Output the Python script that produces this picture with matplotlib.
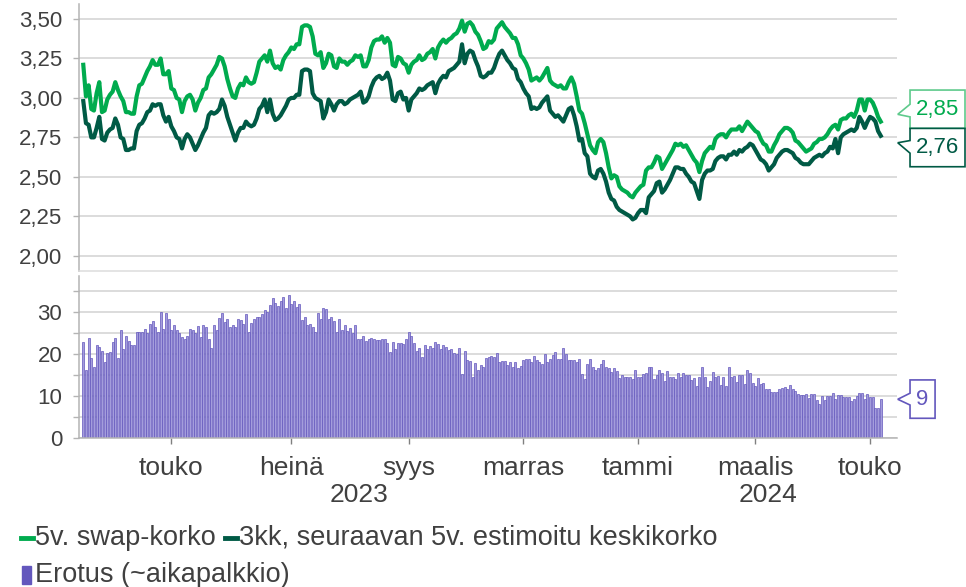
import numpy as np
import pandas as pd
import matplotlib
matplotlib.use('Agg')
import matplotlib.pyplot as plt
from matplotlib.lines import Line2D
from matplotlib.patches import Rectangle, Polygon

plt.rcParams['font.family'] = ['Liberation Sans', 'DejaVu Sans']

# 5v. swap-korko, business days from 15.3.2023
swap = [
    3.21, 3.01, 3.08, 2.93, 2.92, 3.03, 3.10, 2.91, 2.92, 2.99,
    3.02, 3.04, 3.10, 3.05, 3.01, 2.98, 2.91, 2.91, 2.90, 2.90,
    3.01, 3.08, 3.09, 3.13, 3.17, 3.20, 3.24, 3.21, 3.21, 3.25,
    3.15, 3.15, 3.17, 3.06, 3.05, 3.00, 2.99, 2.91, 2.98, 3.01,
    3.02, 2.99, 2.92, 2.97, 3.00, 3.05, 3.06, 3.13, 3.15, 3.18,
    3.21, 3.26, 3.25, 3.20, 3.12, 3.06, 3.01, 3.00, 3.06, 3.09,
    3.08, 3.13, 3.10, 3.09, 3.10, 3.16, 3.23, 3.25, 3.27, 3.23,
    3.30, 3.22, 3.19, 3.20, 3.18, 3.24, 3.27, 3.29, 3.32, 3.31,
    3.34, 3.34, 3.45, 3.46, 3.46, 3.45, 3.39, 3.28, 3.27, 3.29,
    3.19, 3.22, 3.28,
    3.27, 3.20, 3.19, 3.25, 3.23, 3.23, 3.21, 3.23, 3.24, 3.27,
    3.26, 3.27, 3.20, 3.20, 3.24, 3.32, 3.36, 3.37, 3.37, 3.39,
    3.35, 3.38, 3.35, 3.21, 3.20, 3.26, 3.25, 3.22, 3.21, 3.16,
    3.21, 3.23, 3.24, 3.27, 3.24, 3.25, 3.28, 3.29, 3.31, 3.25,
    3.32, 3.35, 3.37, 3.35, 3.37, 3.38, 3.40, 3.41, 3.44, 3.49,
    3.42, 3.47, 3.48, 3.46, 3.42, 3.40, 3.36, 3.31, 3.32, 3.36,
    3.35, 3.37, 3.44, 3.46, 3.48, 3.45, 3.43, 3.41, 3.38, 3.38,
    3.34, 3.27, 3.25, 3.22, 3.18, 3.11, 3.12, 3.13, 3.11, 3.13,
    3.16, 3.19, 3.11, 3.09, 3.08, 3.07, 3.08, 3.06, 3.06, 3.10,
    3.13, 3.09, 3.01, 2.92, 2.90, 2.84, 2.77, 2.70, 2.67, 2.65,
    2.72, 2.74, 2.72, 2.65, 2.56, 2.49, 2.51, 2.50, 2.44, 2.42,
    2.41,
    2.40, 2.38, 2.37, 2.40, 2.42, 2.44, 2.45, 2.54, 2.56, 2.56,
    2.59, 2.63, 2.62, 2.55, 2.58, 2.61, 2.64, 2.67, 2.71, 2.70,
    2.71, 2.69, 2.70, 2.67, 2.64, 2.61, 2.59, 2.53, 2.60, 2.65,
    2.67, 2.69, 2.68, 2.74, 2.76, 2.77, 2.77, 2.75, 2.78, 2.80,
    2.80, 2.80, 2.82, 2.79, 2.82, 2.85, 2.83, 2.81, 2.79, 2.78,
    2.74, 2.71, 2.70, 2.66, 2.66, 2.70, 2.73, 2.77, 2.79, 2.81,
    2.81, 2.80, 2.78, 2.73, 2.72, 2.70, 2.68, 2.66, 2.67, 2.68,
    2.71, 2.72, 2.74, 2.74, 2.75, 2.77, 2.80, 2.82, 2.83, 2.80,
    2.86, 2.87, 2.87, 2.89, 2.90, 2.88, 2.92, 2.99, 2.99, 2.92,
    2.99, 2.99, 2.97, 2.93, 2.88, 2.85,
]

# 3kk, seuraavan 5v. estimoitu keskikorko
est = [
    2.98, 2.84, 2.83, 2.75, 2.75, 2.81, 2.88, 2.74, 2.73, 2.78,
    2.80, 2.81, 2.87, 2.83, 2.75, 2.74, 2.67, 2.67, 2.68, 2.68,
    2.79, 2.83, 2.84, 2.87, 2.91, 2.92, 2.96, 2.95, 2.96, 2.96,
    2.89, 2.85, 2.88, 2.82, 2.79, 2.75, 2.74, 2.68, 2.74, 2.77,
    2.75, 2.71, 2.67, 2.70, 2.74, 2.78, 2.81, 2.89, 2.91, 2.90,
    2.91, 2.93, 2.99, 2.95, 2.88, 2.83, 2.78, 2.73, 2.78, 2.81,
    2.81, 2.85, 2.83, 2.82, 2.83, 2.87, 2.93, 2.95, 2.99, 2.91,
    2.99, 2.90, 2.86, 2.87, 2.89, 2.92, 2.95, 2.99, 3.00, 3.00,
    3.02, 3.02, 3.17, 3.18, 3.18, 3.17, 3.03, 3.00, 2.99, 2.98,
    2.87, 2.91, 2.99,
    2.96, 2.92, 2.96, 2.98, 2.98, 2.96, 2.97, 2.99, 3.00, 3.01,
    3.02, 3.04, 2.97, 2.98, 3.01, 3.07, 3.11, 3.13, 3.14, 3.12,
    3.13, 3.16, 3.11, 2.99, 2.98, 3.03, 3.04, 2.99, 3.00, 2.92,
    2.99, 3.01, 3.03, 3.06, 3.05, 3.06, 3.08, 3.09, 3.10, 3.03,
    3.09, 3.12, 3.14, 3.13, 3.17, 3.18, 3.19, 3.21, 3.23, 3.34,
    3.22, 3.28, 3.30, 3.29, 3.24, 3.20, 3.14, 3.13, 3.14, 3.16,
    3.16, 3.19, 3.24, 3.28, 3.30, 3.27, 3.24, 3.22, 3.19, 3.18,
    3.12, 3.10, 3.06, 3.03, 3.01, 2.93, 2.94, 2.93, 2.94, 2.97,
    2.99, 3.01, 2.92, 2.90, 2.88, 2.89, 2.87, 2.85, 2.89, 2.93,
    2.94, 2.89, 2.82, 2.73, 2.74, 2.65, 2.63, 2.52, 2.50, 2.49,
    2.54, 2.55, 2.52, 2.47, 2.40, 2.36, 2.35, 2.31, 2.29, 2.28,
    2.27,
    2.26, 2.25, 2.23, 2.24, 2.27, 2.29, 2.29, 2.27, 2.37, 2.39,
    2.41, 2.46, 2.47, 2.40, 2.42, 2.45, 2.48, 2.52, 2.56, 2.56,
    2.55, 2.55, 2.52, 2.50, 2.47, 2.46, 2.41, 2.36, 2.48, 2.52,
    2.54, 2.54, 2.55, 2.60, 2.62, 2.63, 2.63, 2.61, 2.64, 2.64,
    2.66, 2.64, 2.67, 2.66, 2.68, 2.69, 2.71, 2.70, 2.67, 2.64,
    2.61, 2.60, 2.58, 2.54, 2.56, 2.58, 2.62, 2.64, 2.66, 2.67,
    2.67, 2.66, 2.65, 2.62, 2.61, 2.59, 2.58, 2.58, 2.58, 2.60,
    2.62, 2.63, 2.64, 2.63, 2.65, 2.66, 2.69, 2.68, 2.74, 2.65,
    2.75, 2.77, 2.78, 2.79, 2.80, 2.79, 2.81, 2.88, 2.85, 2.81,
    2.85, 2.88, 2.87, 2.85, 2.79, 2.76,
]

# Erotus (~aikapalkkio), basis points
erotus = [
    22.8, 16.2, 23.9, 19.1, 16.9, 22.2, 21.6, 20.7, 18.0, 20.3,
    20.4, 22.9, 23.8, 19.1, 25.7, 21.3, 24.2, 23.2, 22.2, 22.2,
    25.1, 25.3, 25.3, 26.0, 24.9, 27.2, 27.9, 26.3, 25.2, 29.9,
    26.0, 29.8, 28.3, 25.7, 26.8, 25.6, 24.9, 24.1, 23.5, 24.3,
    26.0, 25.6, 25.0, 26.7, 24.1, 26.8, 26.4, 23.6, 21.4, 26.9,
    25.8, 28.5, 29.8, 27.5, 28.3, 26.4, 26.9, 26.3, 28.2, 28.0,
    27.2, 29.5, 25.3, 27.3, 28.2, 28.7, 28.7, 29.5, 30.4, 30.0,
    31.7, 33.3, 32.1, 31.3, 32.5, 33.6, 30.8, 34.0, 31.9, 32.6,
    31.1, 31.9, 28.0, 28.7, 26.8, 27.1, 26.5, 25.3, 29.8, 28.3,
    31.0, 30.7, 28.3, 28.7, 27.8, 25.3, 28.3, 25.7, 26.9, 25.4,
    26.1, 25.0, 26.8, 23.6, 23.6, 24.2, 23.1, 23.5, 23.8, 23.5,
    23.3, 23.4, 23.5, 23.5, 22.6, 20.5, 22.9, 21.3, 22.5, 22.5,
    22.4, 23.6, 25.3, 24.2, 22.5, 20.7, 21.5, 19.2, 22.1, 21.3,
    21.9, 21.5, 22.9, 22.4, 21.1, 22.1, 21.6, 21.0, 21.1, 20.3,
    20.0, 21.5, 15.3, 20.6, 18.5, 18.4, 14.6, 17.9, 16.1, 17.3,
    16.9, 19.1, 19.2, 19.6, 19.3, 20.3, 18.0, 18.4, 18.3, 17.3,
    18.1, 17.0, 18.1, 16.7, 17.1, 18.6, 18.8, 18.8, 18.0, 19.5,
    18.5, 18.2, 17.7, 20.1, 18.1, 18.8, 19.8, 20.5, 18.8, 18.8,
    21.4, 20.0, 18.6, 18.6, 18.6, 18.1, 18.8, 15.3, 14.1, 17.6,
    18.8, 16.9, 16.2, 16.7, 17.7, 18.6, 16.9, 16.6, 15.8, 16.7,
    16.0, 14.3, 15.0, 14.5, 14.5, 14.5, 14.0, 16.2, 14.5, 14.5,
    15.2, 15.4, 16.9, 16.8, 14.1, 14.9, 16.1, 15.4, 13.7, 16.0,
    14.6, 14.6, 14.1, 15.5, 14.6, 15.5, 15.0, 15.1, 13.9, 14.3,
    12.4, 14.5, 16.9, 14.5, 12.2, 13.7, 15.8, 14.5, 14.8, 12.6,
    14.5, 12.4, 16.9, 14.6, 14.7, 13.4, 15.1, 15.1, 12.9, 16.2,
    15.4, 13.1, 12.4, 14.3, 12.9, 13.2, 11.6, 11.8, 11.1, 11.1,
    11.1, 11.7, 12.0, 12.1, 11.6, 12.7, 11.7, 11.2, 10.6, 10.2,
    10.2, 10.5, 9.6, 10.5, 10.5, 9.1, 8.2, 10.0, 9.1, 10.0,
    10.0, 10.7, 9.4, 10.2, 10.2, 9.7, 9.7, 9.7, 8.9, 9.3,
    10.0, 10.8, 10.7, 9.3, 10.5, 9.7, 9.7, 7.2, 7.2, 9.3,
]

tick_dates = ['2023-05-01', '2023-07-03', '2023-09-01', '2023-11-01',
              '2024-01-01', '2024-03-01', '2024-05-01']
tick_labels = ['touko', 'heinä', 'syys', 'marras', 'tammi', 'maalis', 'touko']
years = ['2023', '2024']
legend_labels = ['5v. swap-korko', '3kk, seuraavan 5v. estimoitu keskikorko',
                 'Erotus (~aikapalkkio)']

light = '#00ab4e'
dark = '#005a45'
purple = '#6357bd'
gridc = '#d2d2d2'
spinec = '#b4b4b4'
txt = '#404040'

dates = pd.bdate_range('2023-03-15', periods=len(swap))
x = np.arange(len(dates))
xlim = (-1.6, 305.1)

fig = plt.figure(figsize=(9.66, 5.87), dpi=100)
ax1 = fig.add_axes([0.0818, 0.5388, 0.8468, 0.4543])
ax2 = fig.add_axes([0.0818, 0.2533, 0.8468, 0.2765])


def style_axis(ax):
    ax.set_xlim(*xlim)
    for s in ['top', 'right']:
        ax.spines[s].set_visible(False)
    ax.spines['left'].set_color(spinec)
    ax.spines['bottom'].set_color(spinec)
    ax.spines['left'].set_linewidth(1.1)
    ax.spines['bottom'].set_linewidth(1.1)
    ax.tick_params(axis='y', which='both', length=4, width=1, color=spinec,
                   labelsize=16, labelcolor=txt, pad=8)
    ax.grid(axis='y', which='both', color=gridc, linewidth=1.1)
    ax.set_axisbelow(True)


# top panel: rates
style_axis(ax1)
ax1.plot(x, swap, color=light, lw=3, solid_joinstyle='round')
ax1.plot(x, est, color=dark, lw=3, solid_joinstyle='round')
ax1.set_ylim(1.905, 3.595)
yt = np.arange(2.0, 3.51, 0.25)
ax1.set_yticks(yt)
ax1.set_yticklabels([f'{v:.2f}'.replace('.', ',') for v in yt])
ax1.set_xticks([])
ax1.spines['bottom'].set_color('#dcdcdc')

# bottom panel: spread bars
style_axis(ax2)
ax2.bar(x, erotus, width=0.72, color='#a49ddc', edgecolor=purple, linewidth=0.5)
ax2.set_ylim(0, 38.5)
ax2.set_yticks([0, 10, 20, 30])
ax2.set_yticks([5, 15, 25, 35], minor=True)
tick_pos = [dates.searchsorted(pd.Timestamp(d)) for d in tick_dates]
ax2.set_xticks(tick_pos)
ax2.set_xticklabels(tick_labels)
ax2.tick_params(axis='x', length=4, width=1, color='#808080', labelsize=19,
                labelcolor=txt, pad=9)

# year labels centred under each year
split = dates.searchsorted(pd.Timestamp('2024-01-01'))
for yr, cx in zip(years, [(xlim[0] + split) / 2, (split + xlim[1]) / 2]):
    ax2.text(cx, -0.35, yr, transform=ax2.get_xaxis_transform(), ha='center',
             va='center', fontsize=19, color=txt)


# value callouts on the right
def callout(ax, top, bot, tip, hi, lo, right, label, ec, tc):
    left, tipx = 1.0159, 1.0009
    pts = [(left, top), (right, top), (right, bot), (left, bot), (left, lo),
           (tipx, tip), (left, hi)]
    ax.add_patch(Polygon(pts, closed=True, transform=ax.get_yaxis_transform(),
                         facecolor='white', edgecolor=ec, lw=1.2, clip_on=False))
    ax.text((left + right) / 2, (top + bot) / 2, label, transform=ax.get_yaxis_transform(),
            ha='center', va='center', fontsize=16, color=tc, clip_on=False)


callout(ax1, 3.05, 2.807, 2.896, 2.96, 2.88, 1.0831, '2,85', '#5fca8c', light)
callout(ax1, 2.807, 2.564, 2.716, 2.73, 2.65, 1.0831, '2,76', dark, dark)
callout(ax2, 13.85, 4.75, 9.26, 10.7, 7.9, 1.0465, '9', purple, purple)

# legend drawn by hand to match the wrapped layout
W, H = 966.0, 587.0
row1, row2 = 1 - 538 / H, 1 - 575 / H
fig.add_artist(Line2D([21 / W, 33 / W], [row1, row1], color=light, lw=3.5))
fig.text(35 / W, row1, legend_labels[0], fontsize=19.5, color=txt, va='center')
fig.add_artist(Line2D([225 / W, 237 / W], [row1, row1], color=dark, lw=3.5))
fig.text(239 / W, row1, legend_labels[1], fontsize=19.5, color=txt, va='center')
fig.add_artist(Rectangle((22 / W, row2 - 9 / H), 9 / W, 18 / H, color=purple,
                         transform=fig.transFigure))
fig.text(35 / W, row2, legend_labels[2], fontsize=19.5, color=txt, va='center')

fig.savefig('out.png', dpi=100)
